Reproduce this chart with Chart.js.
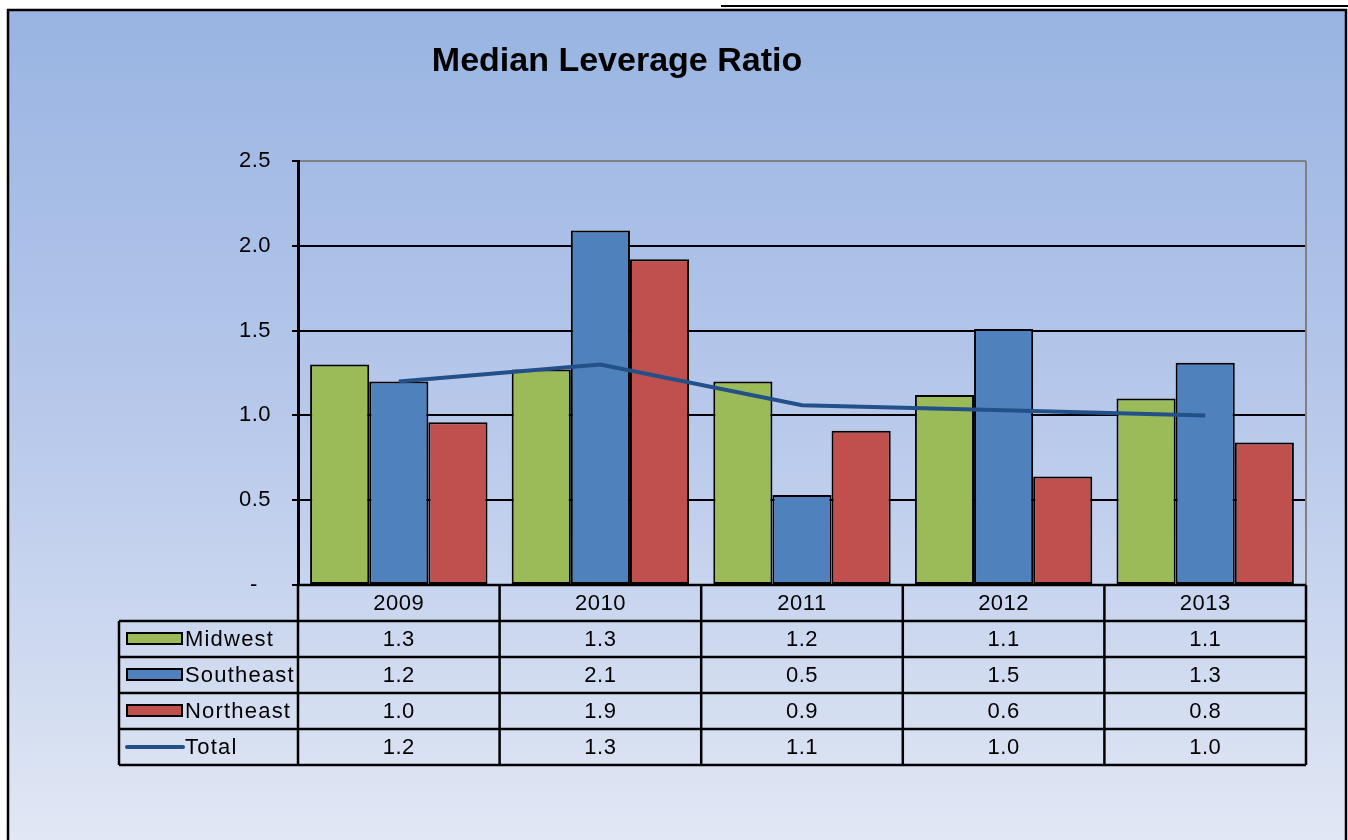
<!DOCTYPE html>
<html>
<head>
<meta charset="utf-8">
<title>Median Leverage Ratio</title>
<script src="https://cdn.jsdelivr.net/npm/chart.js@4"></script>
<style>
  html, body { margin: 0; padding: 0; background: #fff; }
  canvas { display: block; }
</style>
</head>
<body>
<canvas id="leverageChart" width="1348" height="840"></canvas>
<script>
// Median leverage ratio by region, 2009-2013
const years = ["2009", "2010", "2011", "2012", "2013"];
const midwestValues = [1.30, 1.27, 1.20, 1.12, 1.10];
const southeastValues = [1.20, 2.09, 0.53, 1.51, 1.31];
const northeastValues = [0.96, 1.92, 0.91, 0.64, 0.84];
const totalValues = [1.20, 1.30, 1.06, 1.03, 1.00];
const yTicks = [0, 0.5, 1.0, 1.5, 2.0, 2.5];

const chartTitle = "Median Leverage Ratio";
const textFont = "'Liberation Sans', Arial, sans-serif";

const seriesRows = [
    { label: "Midwest", data: midwestValues, color: "#9bbb59", key: "bar" },
    { label: "Southeast", data: southeastValues, color: "#4f81bd", key: "bar" },
    { label: "Northeast", data: northeastValues, color: "#c0504d", key: "bar" },
    { label: "Total", data: totalValues, color: "#24508a", key: "line" },
];

// frame, gradient fill and title
const backgroundPlugin = {
    id: "panelBackground",
    beforeDraw(chart) {
        const ctx = chart.ctx;
        const w = chart.width, h = chart.height;
        ctx.save();
        ctx.fillStyle = "#ffffff";
        ctx.fillRect(0, 0, w, h);
        let grad = ctx.createLinearGradient(0, 10, 0, h);
        grad.addColorStop(0, "#99b4e2");
        grad.addColorStop(0.5, "#b8c9eb");
        grad.addColorStop(1, "#e1e7f4");
        ctx.fillStyle = grad;
        ctx.fillRect(8, 10, 1338, h - 10);
        ctx.strokeStyle = "#000";
        ctx.lineWidth = 2.5;
        ctx.strokeRect(8, 10, 1338, h + 10);
        ctx.lineWidth = 2;
        ctx.beginPath();
        ctx.moveTo(721, 6);
        ctx.lineTo(w, 6);
        ctx.stroke();

        ctx.fillStyle = "#000";
        ctx.font = "bold 34px " + textFont;
        ctx.textAlign = "center";
        ctx.textBaseline = "middle";
        ctx.fillText(chartTitle, 617, 62);
        ctx.restore();
        // slightly wider glyph spacing for the tick labels
        ctx.letterSpacing = "0.5px";
    },
    afterDatasetsDraw(chart) {
        const ctx = chart.ctx;
        const area = chart.chartArea;
        ctx.save();
        ctx.strokeStyle = "#808080";
        ctx.lineWidth = 2;
        ctx.beginPath();
        ctx.moveTo(area.right, area.top);
        ctx.lineTo(area.right, area.bottom);
        ctx.stroke();
        ctx.restore();
    }
};

// data table under the plot, columns follow the category scale
const dataTablePlugin = {
    id: "dataTable",
    afterDraw(chart) {
        const ctx = chart.ctx;
        const area = chart.chartArea;
        const xScale = chart.scales.x;
        const catW = (area.right - area.left) / years.length;
        const legendLeft = 119;
        const rowH = 36;
        const top = area.bottom;
        const bottom = top + rowH * (seriesRows.length + 1);

        ctx.save();
        ctx.strokeStyle = "#000";
        ctx.lineWidth = 2.5;
        ctx.beginPath();
        ctx.moveTo(area.left, top);
        ctx.lineTo(area.right, top);
        for (let r = 1; r <= seriesRows.length + 1; r++) {
            ctx.moveTo(legendLeft, top + r * rowH);
            ctx.lineTo(area.right, top + r * rowH);
        }
        ctx.moveTo(legendLeft, top + rowH);
        ctx.lineTo(legendLeft, bottom);
        for (let i = 0; i <= years.length; i++) {
            let x = area.left + i * catW;
            ctx.moveTo(x, top);
            ctx.lineTo(x, bottom);
        }
        ctx.stroke();

        ctx.fillStyle = "#000";
        ctx.font = "22px " + textFont;
        ctx.letterSpacing = "0.5px";
        ctx.textAlign = "center";
        ctx.textBaseline = "middle";
        years.forEach((yr, i) => {
            ctx.fillText(yr, xScale.getPixelForValue(i), top + rowH / 2 + 1);
        });

        seriesRows.forEach((row, r) => {
            let cy = top + rowH * (r + 1) + rowH / 2;
            // legend key
            if (row.key === "bar") {
                ctx.fillStyle = row.color;
                ctx.fillRect(127, cy - 5, 56, 11);
                ctx.lineWidth = 2;
                ctx.strokeStyle = "#000";
                ctx.strokeRect(127, cy - 6, 55, 11);
            } else {
                ctx.strokeStyle = row.color;
                ctx.lineWidth = 4;
                ctx.lineCap = "round";
                ctx.beginPath();
                ctx.moveTo(127, cy);
                ctx.lineTo(183, cy);
                ctx.stroke();
            }
            ctx.fillStyle = "#000";
            ctx.textAlign = "left";
            ctx.letterSpacing = "1.2px";
            ctx.fillText(row.label, 185, cy + 1);
            ctx.textAlign = "center";
            ctx.letterSpacing = "0.5px";
            row.data.forEach((v, i) => {
                ctx.fillText(v.toFixed(1), xScale.getPixelForValue(i), cy + 1);
            });
        });
        ctx.restore();
    }
};

const barDataset = (row) => ({
    type: "bar",
    label: row.label,
    data: row.data,
    backgroundColor: row.color,
    borderColor: "#000",
    borderWidth: 2,
    borderSkipped: false,
    categoryPercentage: 0.88,
    barPercentage: 1.0,
    order: 1,
});

new Chart(document.getElementById("leverageChart"), {
    data: {
        labels: years,
        datasets: [
            barDataset(seriesRows[0]),
            barDataset(seriesRows[1]),
            barDataset(seriesRows[2]),
            {
                type: "line",
                label: "Total",
                data: totalValues,
                borderColor: seriesRows[3].color,
                borderWidth: 4,
                pointRadius: 0,
                tension: 0,
                order: 0,
            }
        ],
    },
    options: {
        responsive: false,
        animation: false,
        layout: {
            padding: { left: 8, top: 161, right: 42, bottom: 255 }
        },
        scales: {
            x: {
                display: false,
                offset: true,
            },
            y: {
                min: 0,
                max: 2.5,
                afterBuildTicks: (scale) => {
                    scale.ticks = yTicks.map(v => ({ value: v }));
                },
                afterFit: (scale) => {
                    scale.width = 290;
                },
                border: { color: "#000", width: 3 },
                grid: {
                    color: (c) => (c.tick && c.tick.value === 2.5) ? "#808080" : "#000",
                    lineWidth: 2,
                    tickLength: 6,
                    tickColor: "#000",
                },
                ticks: {
                    padding: 21,
                    color: "#000",
                    font: { family: textFont, size: 22 },
                    callback: (v) => v === 0 ? "-  " : Number(v).toFixed(1),
                }
            }
        },
        plugins: {
            legend: { display: false },
            tooltip: { enabled: false },
        }
    },
    plugins: [backgroundPlugin, dataTablePlugin],
});
</script>
</body>
</html>
